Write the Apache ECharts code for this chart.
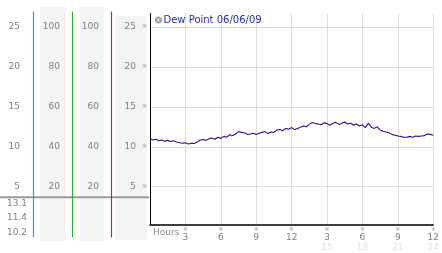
<!DOCTYPE html>
<html><head><meta charset="utf-8">
<script src="https://cdn.jsdelivr.net/npm/echarts@6/dist/echarts.min.js"></script>
<style>html,body{margin:0;padding:0;background:#fff}#c{width:442px;height:253px}</style>
</head><body><div id="c"></div>
<script>
// ---- data ----
const hours = [0,0.25,0.5,0.75,1,1.25,1.5,1.75,2,2.25,2.5,2.75,3,3.25,3.5,3.75,4,4.25,4.5,4.75,5,5.25,5.5,5.75,6,6.25,6.5,6.75,7,7.25,7.5,7.75,8,8.25,8.5,8.75,9,9.25,9.5,9.75,10,10.25,10.5,10.75,11,11.25,11.5,11.75,12,12.25,12.5,12.75,13,13.25,13.5,13.75,14,14.25,14.5,14.75,15,15.25,15.5,15.75,16,16.25,16.5,16.75,17,17.25,17.5,17.75,18,18.25,18.5,18.75,19,19.25,19.5,19.75,20,20.25,20.5,20.75,21,21.25,21.5,21.75,22,22.25,22.5,22.75,23,23.25,23.5,23.75,24];
const dewPoint = [11.0,10.85,10.95,10.75,10.85,10.7,10.8,10.65,10.75,10.6,10.5,10.45,10.5,10.35,10.45,10.4,10.6,10.85,10.9,10.8,11.0,11.1,10.95,11.2,11.05,11.3,11.2,11.5,11.4,11.6,11.9,11.8,11.75,11.55,11.6,11.7,11.55,11.7,11.8,11.9,11.65,11.85,11.8,12.1,12.15,12.0,12.3,12.2,12.4,12.15,12.3,12.45,12.6,12.5,12.8,13.05,12.9,12.85,12.75,13.0,12.9,12.7,12.95,13.05,12.8,12.95,13.1,12.85,12.95,12.7,12.85,12.6,12.75,12.4,12.95,12.45,12.3,12.5,12.1,11.95,11.85,11.75,11.55,11.45,11.35,11.3,11.2,11.2,11.3,11.2,11.35,11.3,11.35,11.4,11.6,11.55,11.45];
const tempTicks = [5,10,15,20,25];
const pctTicks = [20,40,60,80,100];
const hourTicks = [3,6,9,12,15,18,21,24];
const statLabels = ['13.1','11.4','10.2'];
const seriesName = 'Dew Point 06/06/09';
const xAxisName = 'Hours';

const FONT = 'DejaVu Sans';
const chart = echarts.init(document.getElementById('c'), null, {renderer:'canvas'});

function sideAxis(gridIndex, color, ticks, min, max, margin) {
  return {
    type:'value', gridIndex, min, max, position:'left',
    axisLine:{show:true, onZero:false, lineStyle:{color, width:1.2, opacity:1}},
    axisTick:{show:false, customValues:ticks},
    splitLine:{show:false},
    axisLabel:{customValues:ticks, margin, color:'#808080', fontFamily:FONT, fontSize:9}
  };
}
function hiddenX(gridIndex){ return {type:'value', gridIndex, min:0, max:1, show:false}; }

const option = {
  animation:false,
  backgroundColor:'#fff',
  textStyle:{fontFamily:FONT},
  grid:[
    {left:150, right:2.5, top:13.3, bottom:28.7, containLabel:false},
    {left:33, width:1, top:12, bottom:16.3},
    {left:72, width:1, top:12, bottom:16},
    {left:111, width:1, top:12, bottom:16}
  ],
  legend:{
    left:155, top:15, padding:0, icon:'circle', itemWidth:6, itemHeight:6,
    data:[{name:seriesName, itemStyle:{color:'#c4c4c4', borderColor:'#8a8a8a', borderWidth:1}}],
    textStyle:{color:'#2a2aa6', fontFamily:FONT, fontSize:10, padding:[0,0,0,-3]}
  },
  xAxis:[
    {type:'value', gridIndex:0, min:0, max:24, interval:3,
     axisLine:{show:true, lineStyle:{color:'#000', width:1.5}},
     axisTick:{show:false},
     splitLine:{show:true, lineStyle:{color:'#dcdcdc', width:1}},
     axisLabel:{margin:2, showMinLabel:false, fontFamily:FONT,
       formatter:function(v){
         if (hourTicks.indexOf(v) < 0) return '';
         const d = v > 12 ? v - 12 : v;
         const f = v > 12 ? String(v) : ' ';
         return '{m|※}\n{d|' + d + '}\n{f|' + f + '}';
       },
       rich:{
         m:{fontSize:6, lineHeight:7, color:'#a0a0a0', fontFamily:FONT},
         d:{fontSize:9, lineHeight:9, color:'#808080', fontFamily:FONT},
         f:{fontSize:9, lineHeight:11, color:'#e2e2e2', fontFamily:FONT}
       }}
    },
    hiddenX(1), hiddenX(2), hiddenX(3)
  ],
  yAxis:[
    {type:'value', gridIndex:0, min:0.3, max:26.7,
     axisLine:{show:true, lineStyle:{color:'#000', width:1}},
     axisTick:{show:false, customValues:tempTicks},
     splitLine:{show:true, lineStyle:{color:'#dcdcdc', width:1}},
     axisLabel:{customValues:tempTicks, margin:3, fontFamily:FONT,
       formatter:function(v){ return '{v|' + v + '}{m|※}'; },
       rich:{
         v:{fontSize:9, color:'#808080', fontFamily:FONT},
         m:{fontSize:6, color:'#a0a0a0', fontFamily:FONT, padding:[0,0,0,6]}
       }}
    },
    sideAxis(1, '#1da3d6', tempTicks, -1.25, 26.84, 13),
    sideAxis(2, '#2fae2f', pctTicks, -5.16, 107.36, 12),
    sideAxis(3, '#c02828', pctTicks, -5.16, 107.36, 12)
  ],
  series:[{
    name:seriesName, type:'line', xAxisIndex:0, yAxisIndex:0,
    data:hours.map((h,i)=>[h, dewPoint[i]]),
    showSymbol:false, symbol:'none',
    lineStyle:{color:'#1a1a8c', width:1.1},
    itemStyle:{color:'#1a1a8c'}
  }],
  graphic:[
    {type:'rect', z:-10, shape:{x:40, y:7, width:26, height:234}, style:{fill:'#f4f4f4'}, silent:true},
    {type:'rect', z:-10, shape:{x:80, y:7, width:24, height:234}, style:{fill:'#f4f4f4'}, silent:true},
    {type:'rect', z:-10, shape:{x:115, y:16, width:32, height:224}, style:{fill:'#f4f4f4'}, silent:true},
    {type:'line', z:-5, shape:{x1:0, y1:197.3, x2:149, y2:197.3}, style:{stroke:'#9a9a9a', lineWidth:2}, silent:true},
    {type:'text', left:7, top:199.5, style:{text:statLabels[0], fill:'#808080', font:'9px "DejaVu Sans"'}},
    {type:'text', left:7, top:213.5, style:{text:statLabels[1], fill:'#808080', font:'9px "DejaVu Sans"'}},
    {type:'text', left:7, top:228, style:{text:statLabels[2], fill:'#808080', font:'9px "DejaVu Sans"'}},
    {type:'text', left:153, top:228, style:{text:xAxisName, fill:'#8a8a8a', font:'9px "DejaVu Sans"'}}
  ]
};
chart.setOption(option);
</script>
</body></html>
